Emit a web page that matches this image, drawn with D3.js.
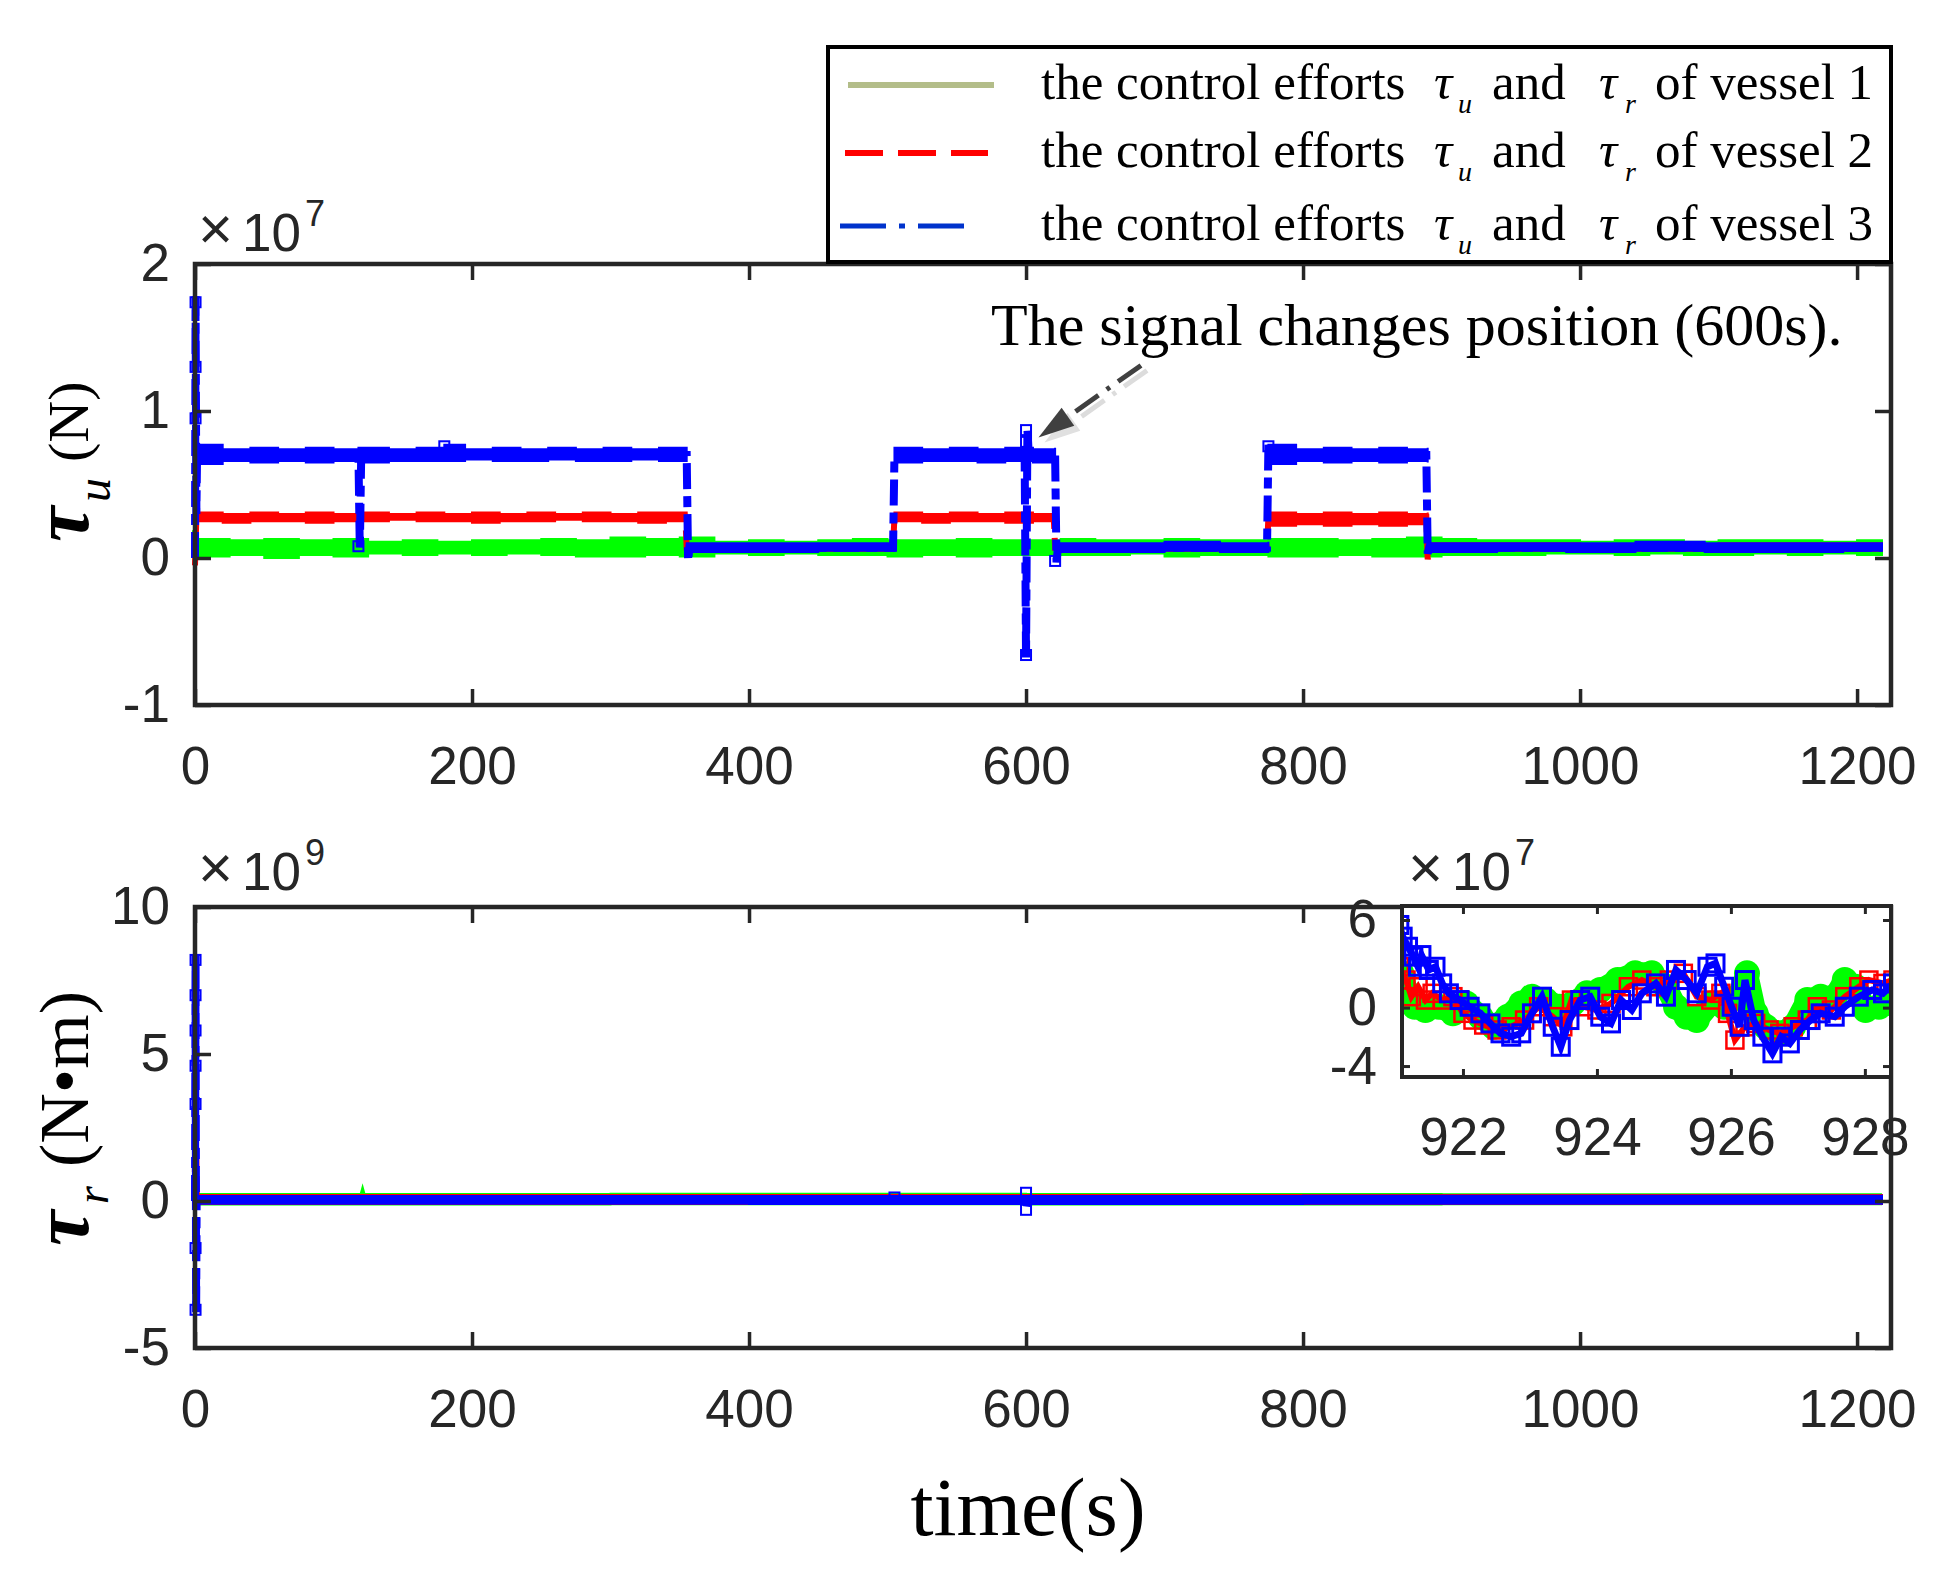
<!DOCTYPE html>
<html>
<head>
<meta charset="utf-8">
<script src="https://cdn.jsdelivr.net/npm/d3@7"></script>
<style>
  body { margin: 0; background: #fff; }
  .serif { font-family: "Liberation Serif", "Times New Roman", serif; }
  .sans { font-family: "Liberation Sans", Arial, sans-serif; fill: #262626; }
</style>
</head>
<body>
<svg id="chart"></svg>
<script>
// ---- tick values ----
const timeTicks = [0, 200, 400, 600, 800, 1000, 1200];
const tauUTicks = [-1, 0, 1, 2];          // x 1e7 N
const tauRTicks = [-5, 0, 5, 10];         // x 1e9 N.m
const insetTimeTicks = [922, 924, 926, 928];
const insetTicks = [-4, 0, 6];            // x 1e7

const vesselLabels = ["of vessel 1", "of vessel 2", "of vessel 3"];

// ---- tau_u (1e7 N): noisy bands read as [t, low, high] ----
const tauUBand1 = [[[1, 0.01, 0.13], [25, 0.02, 0.12], [50, 0.00, 0.13], [75, 0.02, 0.12], [100, 0.01, 0.13], [125, 0.03, 0.11],
  [150, 0.02, 0.12], [175, 0.03, 0.11], [200, 0.02, 0.12], [225, 0.03, 0.12], [250, 0.02, 0.13], [275, 0.01, 0.12], [300, 0.01, 0.14],
  [325, 0.02, 0.13], [350, 0.01, 0.14], [375, 0.03, 0.11], [400, 0.02, 0.12], [425, 0.03, 0.11], [450, 0.02, 0.12], [475, 0.02, 0.13],
  [500, 0.01, 0.12], [525, 0.02, 0.12], [550, 0.01, 0.13], [575, 0.02, 0.12], [600, 0.02, 0.12], [625, 0.02, 0.13], [650, 0.02, 0.12],
  [675, 0.03, 0.12], [700, 0.01, 0.13], [725, 0.02, 0.12], [750, 0.02, 0.12], [775, 0.01, 0.13], [800, 0.01, 0.13], [825, 0.02, 0.12],
  [850, 0.01, 0.13], [875, 0.01, 0.14], [900, 0.02, 0.13], [925, 0.02, 0.12], [950, 0.02, 0.12], [975, 0.03, 0.12], [1000, 0.03, 0.11],
  [1025, 0.02, 0.12], [1050, 0.03, 0.12], [1075, 0.02, 0.11], [1100, 0.02, 0.12], [1125, 0.03, 0.12], [1150, 0.02, 0.12],
  [1175, 0.03, 0.11], [1200, 0.02, 0.12], [1218, 0.03, 0.11]]];
const tauUBand2 = [
  [[2, 0.25, 0.31], [20, 0.24, 0.30], [40, 0.25, 0.31], [60, 0.25, 0.30], [80, 0.24, 0.31], [100, 0.25, 0.30], [120, 0.25, 0.31],
   [140, 0.26, 0.30], [160, 0.25, 0.31], [180, 0.25, 0.30], [200, 0.24, 0.31], [220, 0.25, 0.30], [240, 0.25, 0.31], [260, 0.26, 0.30],
   [280, 0.25, 0.31], [300, 0.25, 0.30], [320, 0.24, 0.31], [340, 0.25, 0.31], [355, 0.25, 0.30]],
  [[355, 0.05, 0.09], [505, 0.05, 0.09]],
  [[505, 0.25, 0.31], [525, 0.24, 0.30], [545, 0.25, 0.31], [565, 0.25, 0.30], [585, 0.24, 0.31], [605, 0.25, 0.30], [621, 0.24, 0.31]],
  [[621, 0.05, 0.09], [775, 0.05, 0.09]],
  [[775, 0.22, 0.31], [795, 0.23, 0.30], [815, 0.22, 0.31], [835, 0.23, 0.30], [855, 0.22, 0.31], [875, 0.23, 0.30], [890, 0.22, 0.31]],
  [[890, 0.05, 0.10], [1000, 0.05, 0.09], [1100, 0.05, 0.10], [1218, 0.05, 0.09]]
];
const tauUBand3 = [
  [[2, 0.64, 0.77], [20, 0.66, 0.74], [40, 0.65, 0.75], [60, 0.66, 0.74], [80, 0.65, 0.75], [100, 0.66, 0.74], [118, 0.65, 0.75],
   [140, 0.66, 0.74], [160, 0.66, 0.75], [180, 0.66, 0.77], [195, 0.67, 0.74], [215, 0.66, 0.75], [235, 0.66, 0.74], [255, 0.67, 0.75],
   [275, 0.66, 0.74], [295, 0.66, 0.75], [315, 0.67, 0.74], [335, 0.66, 0.75], [355, 0.66, 0.74]],
  [[355, 0.04, 0.10], [400, 0.04, 0.10], [450, 0.05, 0.10], [505, 0.04, 0.10]],
  [[505, 0.65, 0.75], [525, 0.66, 0.74], [545, 0.66, 0.75], [565, 0.65, 0.74], [585, 0.66, 0.75], [605, 0.65, 0.74], [621, 0.66, 0.75]],
  [[621, 0.04, 0.10], [660, 0.04, 0.10], [700, 0.05, 0.11], [740, 0.04, 0.10], [775, 0.04, 0.11]],
  [[775, 0.64, 0.77], [795, 0.66, 0.74], [815, 0.65, 0.75], [835, 0.66, 0.74], [855, 0.65, 0.75], [875, 0.66, 0.74], [890, 0.65, 0.75]],
  [[890, 0.04, 0.10], [940, 0.05, 0.10], [990, 0.04, 0.10], [1040, 0.05, 0.11], [1090, 0.04, 0.10], [1140, 0.04, 0.10], [1190, 0.05, 0.10], [1218, 0.05, 0.10]]
];
// step lines (transitions and spikes)
const tauULine1 = [[0, 0.19], [1, 0.07], [1218, 0.07]];
const tauULine2 = [[0, -0.05], [1, 0.28], [354, 0.28], [355, 0.07], [504, 0.07], [505, 0.28], [620, 0.28], [621, 0.07],
  [774, 0.07], [775, 0.28], [889, 0.28], [890, -0.01], [891, 0.07], [1218, 0.07]];
const tauULine3 = [[0, 0.0], [0.4, 1.78], [1, 0.3], [1.5, 0.7], [118, 0.7], [119, 0.05], [120, 0.7], [355, 0.7], [356, -0.02],
  [357, 0.07], [504, 0.07], [505, 0.7], [599, 0.7], [600, -0.68], [601, 0.87], [602, 0.7], [621, 0.7], [622, -0.03],
  [623, 0.07], [774, 0.07], [775, 0.77], [776, 0.7], [889, 0.7], [890, 0.03], [891, 0.07], [1218, 0.07]];
const tauUMarks3 = [[0.4, 1.74], [0.4, 1.3], [0.4, 0.95], [600, 0.87], [600, 0.79], [600, -0.66], [621, -0.02], [118, 0.08], [180, 0.76], [775, 0.76]];

// ---- tau_r (1e9 N.m) ----
const tauRBand1 = [[[0, -0.12, 0.24], [300, -0.11, 0.25], [600, -0.12, 0.24], [900, -0.11, 0.23], [1218, -0.12, 0.24]]];
const tauRBand2 = [[[0, -0.10, 0.20], [1218, -0.10, 0.20]]];
const tauRBand3 = [[[0, -0.09, 0.17], [400, -0.10, 0.17], [800, -0.09, 0.18], [1218, -0.09, 0.17]]];
const tauRLine1 = [[0, 0.3], [1, 0.05], [120, 0.05], [121, 0.22], [122, 0.05], [1218, 0.05]];
const tauRLine2 = [[0, 0.0], [0.5, 1.9], [1, 0.05], [1218, 0.05]];
const tauRLine3 = [[0, 0.0], [0.4, 8.4], [0.8, -3.9], [1.2, 0.05], [599, 0.05], [600, 0.3], [601, -0.3], [602, 0.05], [1218, 0.05]];
const tauRMarks3 = [[0.4, 8.2], [0.4, 7.0], [0.4, 5.8], [0.4, 4.6], [0.4, 3.3], [0.4, -1.6], [0.4, -3.7], [600, 0.28], [600, -0.3], [505, 0.12]];

// ---- inset: tau_r zoom (1e7 N.m) ----
const insetV1 = [[921.08, 2.35], [921.18, 0.98], [921.28, 0.06], [921.44, -0.16], [921.64, 0.06], [921.85, -0.39], [922.05, 0.29],
  [922.26, -0.62], [922.46, -1.31], [922.67, -0.62], [922.87, 0.29], [923.03, 0.75], [923.23, 0.52], [923.44, 0.06], [923.64, 0.29],
  [923.85, 0.98], [924.05, 1.21], [924.31, 1.89], [924.57, 2.35], [924.82, 2.35], [925.03, 1.43], [925.18, 0.06], [925.34, -0.62],
  [925.49, -0.85], [925.70, 0.29], [925.90, 0.06], [926.11, 0.75], [926.24, 2.35], [926.37, -0.39], [926.52, -1.31], [926.73, -1.76],
  [926.93, -1.31], [927.14, 0.52], [927.34, 0.75], [927.55, 0.75], [927.70, 1.89], [927.86, 1.43], [928.01, -0.16], [928.21, 0.06], [928.42, 0.29]];
const insetV2 = [[921.05, 2.80], [921.15, 1.89], [921.23, 0.75], [921.33, 1.43], [921.44, 0.52], [921.54, 0.98], [921.69, 0.52],
  [921.85, 0.75], [922.00, -0.39], [922.15, -0.85], [922.31, -1.19], [922.51, -1.53], [922.72, -1.31], [922.92, -0.85], [923.13, 0.06],
  [923.34, -0.62], [923.49, -1.31], [923.62, 0.52], [923.80, 0.06], [924.00, -0.16], [924.21, 0.29], [924.47, 1.43], [924.67, 1.89],
  [924.88, 1.43], [925.08, 1.89], [925.29, 2.35], [925.49, 0.75], [925.70, 0.52], [925.85, 0.98], [925.95, -0.39], [926.06, -2.22],
  [926.21, -1.31], [926.37, -1.08], [926.57, -1.53], [926.73, -1.76], [926.93, -1.31], [927.14, -0.85], [927.29, 0.06], [927.50, -0.16],
  [927.70, 0.75], [927.91, 1.43], [928.06, 1.89], [928.27, 1.66], [928.42, 1.89]];
const insetV3 = [[921.05, 5.66], [921.10, 4.86], [921.18, 4.17], [921.26, 3.49], [921.33, 2.80], [921.38, 3.60], [921.49, 2.58],
  [921.59, 2.80], [921.69, 1.66], [921.79, 0.98], [921.95, 0.52], [922.10, 0.06], [922.26, -0.39], [922.41, -1.08], [922.56, -1.76],
  [922.72, -1.99], [922.87, -1.76], [923.03, -0.39], [923.18, 0.75], [923.34, -1.31], [923.46, -2.68], [923.59, -0.85], [923.75, 0.52],
  [923.90, 0.75], [924.05, -0.62], [924.21, -1.08], [924.36, 0.52], [924.52, -0.16], [924.67, 0.98], [924.88, 1.66], [925.03, 0.75],
  [925.18, 2.58], [925.34, 1.89], [925.49, 0.98], [925.65, 2.80], [925.77, 3.03], [925.90, 1.43], [926.01, 0.06], [926.13, -1.31],
  [926.21, 1.89], [926.34, -0.85], [926.47, -1.99], [926.62, -3.13], [926.75, -1.99], [926.88, -2.45], [927.03, -1.53], [927.19, -0.85],
  [927.34, -0.39], [927.55, -0.62], [927.70, 0.06], [927.91, 0.75], [928.11, 1.21], [928.27, 0.98], [928.42, 1.66]];

// annotation arrow, data units of the upper panel
const arrowTail = [683, 1.31], arrowTip = [609, 0.82];

const green = "#00ff00", red = "#ff0000", blue = "#0000ff", axisColor = "#262626";
const W = 1952, H = 1571;

const svg = d3.select("#chart").attr("width", W).attr("height", H);
svg.append("rect").attr("width", W).attr("height", H).attr("fill", "#fff");

const xTop = d3.scaleLinear().domain([0, 1224.5]).range([195, 1891]);
const yTop = d3.scaleLinear().domain([-1, 2]).range([705, 264]);
const yBot = d3.scaleLinear().domain([-5, 10]).range([1348, 907]);
const xIn = d3.scaleLinear().domain([921.09, 928.39]).range([1402, 1891]);
const yIn = d3.scaleLinear().domain([-4.75, 6.96]).range([1077, 906]);

function drawBands(g, x, y, segments, color) {
  const area = d3.area().x(d => x(d[0])).y0(d => y(d[1])).y1(d => y(d[2])).curve(d3.curveStepAfter);
  segments.forEach(seg => g.append("path").attr("d", area(seg)).attr("fill", color).attr("stroke", color).attr("stroke-width", 2));
}
function drawLine(g, x, y, data, color, width, dash) {
  const line = d3.line().x(d => x(d[0])).y(d => y(d[1]));
  g.append("path").attr("d", line(data)).attr("fill", "none").attr("stroke", color)
    .attr("stroke-width", width).attr("stroke-dasharray", dash || null);
}
function drawSquares(g, x, y, data, color, size, sw) {
  g.selectAll(null).data(data).enter().append("rect")
    .attr("x", d => x(d[0]) - size / 2).attr("y", d => y(d[1]) - size / 2)
    .attr("width", size).attr("height", size)
    .attr("fill", "none").attr("stroke", color).attr("stroke-width", sw);
}

function drawFrame(x, y, xTicks, yTicks, opt) {
  const [xa, xb] = x.range(), [yb, ya] = y.range();
  const g = svg.append("g");
  const style = sel => {
    sel.select(".domain").remove();
    sel.selectAll(".tick line").attr("stroke", axisColor).attr("stroke-width", opt.tickWidth);
    sel.selectAll(".tick text").attr("class", "sans").attr("font-size", opt.font).attr("fill", axisColor);
  };
  g.append("g").attr("transform", `translate(0,${yb})`)
    .call(d3.axisBottom(x).tickValues(xTicks).tickSize(-opt.tick).tickPadding(opt.xPad).tickFormat(d3.format("d"))).call(style);
  g.append("g").attr("transform", `translate(0,${ya})`)
    .call(d3.axisTop(x).tickValues(xTicks).tickSize(-opt.tick).tickFormat("")).call(style);
  g.append("g").attr("transform", `translate(${xa},0)`)
    .call(d3.axisLeft(y).tickValues(yTicks).tickSize(-opt.tick).tickPadding(opt.yPad).tickFormat(d3.format("d"))).call(style);
  g.append("g").attr("transform", `translate(${xb},0)`)
    .call(d3.axisRight(y).tickValues(yTicks).tickSize(-opt.tick).tickFormat("")).call(style);
  g.selectAll(".tick text").attr("font-family", "Liberation Sans, Arial, sans-serif");
  g.selectAll(".tick text").each(function () { this.textContent = this.textContent.replace("\u2212", "-"); });
  g.append("rect").attr("x", xa).attr("y", ya).attr("width", xb - xa).attr("height", yb - ya)
    .attr("fill", "none").attr("stroke", axisColor).attr("stroke-width", opt.frameWidth);
}

function exponent(x0, y0, pow) {
  const t = svg.append("text").attr("class", "sans").attr("font-size", 53);
  t.append("tspan").attr("x", x0 - 2).attr("y", y0 - 2).attr("font-size", 60).text("\u00d7");
  t.append("tspan").attr("x", x0 + 42).attr("y", y0).text("10");
  t.append("tspan").attr("x", x0 + 105).attr("y", y0 - 25).attr("font-size", 36).text(pow);
}

const mainOpt = { tick: 16, tickWidth: 3.5, frameWidth: 4.5, font: 53, xPad: 41, yPad: 25 };

// ---- upper panel: tau_u ----
const gTop = svg.append("g");
drawBands(gTop, xTop, yTop, tauUBand1, green);
drawLine(gTop, xTop, yTop, tauULine1, green, 6);
drawBands(gTop, xTop, yTop, tauUBand2, red);
drawLine(gTop, xTop, yTop, tauULine2, red, 6, "20,9");
drawBands(gTop, xTop, yTop, tauUBand3, blue);
drawLine(gTop, xTop, yTop, tauULine3, blue, 8, "26,7,11,7");
drawSquares(gTop, xTop, yTop, tauUMarks3, blue, 10, 2);
drawFrame(xTop, yTop, timeTicks, tauUTicks, mainOpt);
exponent(200, 251, "7");

// annotation
const tip = [xTop(arrowTip[0]), yTop(arrowTip[1])], tail = [xTop(arrowTail[0]), yTop(arrowTail[1])];
const ang = Math.atan2(tip[1] - tail[1], tip[0] - tail[0]);
const headLen = 36, headHalf = 11;
const base = [tip[0] - headLen * Math.cos(ang), tip[1] - headLen * Math.sin(ang)];
svg.append("line").attr("x1", tail[0] + 6).attr("y1", tail[1] + 5).attr("x2", base[0] + 6).attr("y2", base[1] + 5)
  .attr("stroke", "#dcdcdc").attr("stroke-width", 5).attr("stroke-dasharray", "28,10,4,10");
svg.append("line").attr("x1", tail[0]).attr("y1", tail[1]).attr("x2", base[0]).attr("y2", base[1])
  .attr("stroke", "#404040").attr("stroke-width", 5).attr("stroke-dasharray", "28,10,4,10");
const head = [tip,
  [base[0] + headHalf * Math.sin(ang), base[1] - headHalf * Math.cos(ang)],
  [base[0] - headHalf * Math.sin(ang), base[1] + headHalf * Math.cos(ang)]];
svg.append("polygon").attr("points", head.map(p => [p[0] + 6, p[1] + 5].join(",")).join(" ")).attr("fill", "#e0e0e0");
svg.append("polygon").attr("points", head.map(p => p.join(",")).join(" ")).attr("fill", "#404040");
svg.append("text").attr("class", "serif").attr("x", 991).attr("y", 345).attr("font-size", 60).attr("fill", "#000")
  .text("The signal changes position (600s).");

// ---- lower panel: tau_r ----
const gBot = svg.append("g");
drawBands(gBot, xTop, yBot, tauRBand1, green);
drawLine(gBot, xTop, yBot, tauRLine1, green, 6);
drawBands(gBot, xTop, yBot, tauRBand2, red);
drawLine(gBot, xTop, yBot, tauRLine2, red, 7, "20,9");
drawBands(gBot, xTop, yBot, tauRBand3, blue);
drawLine(gBot, xTop, yBot, tauRLine3, blue, 8, "26,7,11,7");
drawSquares(gBot, xTop, yBot, tauRMarks3, blue, 10, 2);
drawFrame(xTop, yBot, timeTicks, tauRTicks, mainOpt);
exponent(200, 890, "9");

// ---- inset ----
const [ix0, ix1] = xIn.range(), [iy1, iy0] = yIn.range();
svg.append("rect").attr("x", ix0).attr("y", iy0).attr("width", ix1 - ix0).attr("height", iy1 - iy0).attr("fill", "#fff");
svg.append("clipPath").attr("id", "insetClip").append("rect")
  .attr("x", ix0).attr("y", iy0).attr("width", ix1 - ix0).attr("height", iy1 - iy0);
const gIn = svg.append("g").attr("clip-path", "url(#insetClip)");
const lineIn = d3.line().x(d => xIn(d[0])).y(d => yIn(d[1]));
gIn.append("path").attr("d", lineIn(insetV1)).attr("fill", "none").attr("stroke", green)
  .attr("stroke-width", 22).attr("stroke-linejoin", "round").attr("stroke-linecap", "round");
gIn.selectAll(null).data(insetV1).enter().append("circle")
  .attr("cx", d => xIn(d[0])).attr("cy", d => yIn(d[1])).attr("r", 13).attr("fill", green);
gIn.append("path").attr("d", lineIn(insetV2)).attr("fill", "none").attr("stroke", red).attr("stroke-width", 6);
drawSquares(gIn, xIn, yIn, insetV2, red, 17, 2.5);
gIn.append("path").attr("d", lineIn(insetV3)).attr("fill", "none").attr("stroke", blue).attr("stroke-width", 7);
drawSquares(gIn, xIn, yIn, insetV3, blue, 17, 3);
drawFrame(xIn, yIn, insetTimeTicks, insetTicks, { tick: 8, tickWidth: 3, frameWidth: 4, font: 53, xPad: 40, yPad: 25 });
exponent(1410, 890, "7");

// ---- axis titles ----
const yl1 = svg.append("g").attr("transform", "translate(88,542) rotate(-90)").attr("class", "serif");
yl1.append("text").attr("x", 0).attr("y", 0).attr("font-size", 80).attr("font-weight", "bold").attr("font-style", "italic").text("\u03c4");
yl1.append("text").attr("x", 40).attr("y", 22).attr("font-size", 48).attr("font-style", "italic").text("u");
yl1.append("text").attr("x", 80).attr("y", 0).attr("font-size", 58).text("(N)");

const yl2 = svg.append("g").attr("transform", "translate(88,1246) rotate(-90)").attr("class", "serif");
yl2.append("text").attr("x", 0).attr("y", 0).attr("font-size", 80).attr("font-weight", "bold").attr("font-style", "italic").text("\u03c4");
yl2.append("text").attr("x", 42).attr("y", 20).attr("font-size", 46).attr("font-style", "italic").text("r");
yl2.append("text").attr("x", 79).attr("y", 0).attr("font-size", 70).text("(N\u2022m)");

svg.append("text").attr("class", "serif").attr("x", 1028).attr("y", 1535).attr("text-anchor", "middle")
  .attr("font-size", 83).text("time(s)");

// ---- legend ----
const legend = svg.append("g");
legend.append("rect").attr("x", 828).attr("y", 47).attr("width", 1063).attr("height", 215)
  .attr("fill", "#fff").attr("stroke", "#000").attr("stroke-width", 4);
const legendRows = [
  { y: 99, color: "#b3bd89", dash: null, width: 6, x1: 848, x2: 994 },
  { y: 167, color: red, dash: "38,15", width: 6, x1: 845, x2: 988 },
  { y: 240, color: "#0033cc", dash: "46,13,6,13", width: 5, x1: 840, x2: 974 }
];
legendRows.forEach((r, i) => {
  legend.append("line").attr("x1", r.x1).attr("x2", r.x2).attr("y1", r.y - 14).attr("y2", r.y - 14)
    .attr("stroke", r.color).attr("stroke-width", r.width).attr("stroke-dasharray", r.dash);
  const t = legend.append("g").attr("class", "serif").attr("font-size", 51);
  t.append("text").attr("x", 1041).attr("y", r.y).text("the control efforts");
  t.append("text").attr("x", 1434).attr("y", r.y).attr("font-style", "italic").text("\u03c4");
  t.append("text").attr("x", 1458).attr("y", r.y + 14).attr("font-size", 28).attr("font-style", "italic").text("u");
  t.append("text").attr("x", 1492).attr("y", r.y).text("and");
  t.append("text").attr("x", 1599).attr("y", r.y).attr("font-style", "italic").text("\u03c4");
  t.append("text").attr("x", 1625).attr("y", r.y + 14).attr("font-size", 28).attr("font-style", "italic").text("r");
  t.append("text").attr("x", 1655).attr("y", r.y).text(vesselLabels[i]);
});
</script>
</body>
</html>
